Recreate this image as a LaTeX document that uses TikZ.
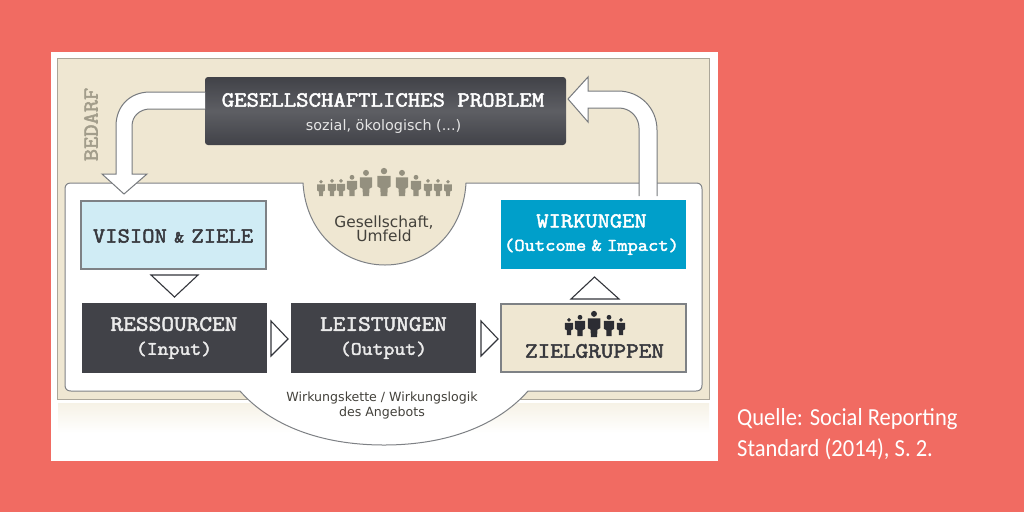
\documentclass[tikz,border=0pt]{standalone}
\usepackage{fontspec}
\setmainfont{DejaVu Sans}
\setmonofont[AutoFakeBold=2.4,FakeStretch=1.12]{Latin Modern Mono}
\newfontfamily\qfont[FakeStretch=0.92]{Carlito}
\usetikzlibrary{calc}
\definecolor{bgred}{HTML}{F16B62}
\definecolor{beige}{HTML}{EFE7D2}
\definecolor{edgegray}{HTML}{8C8F94}
\definecolor{darkbox}{HTML}{414248}
\definecolor{lightblue}{HTML}{D0ECF5}
\definecolor{wirkblue}{HTML}{009FCA}
\definecolor{persongray}{HTML}{94907F}
\definecolor{persondark}{HTML}{2C2D33}
\definecolor{tri}{HTML}{33353B}
\tikzset{
  x=1pt,y=-1pt,
  base/.style={inner sep=0pt,outer sep=0pt,minimum width=#1,minimum height=68pt,line width=2pt},
  base/.default=185pt,
  bt/.style={font=\ttfamily\bfseries\fontsize{22}{24}\selectfont,align=center},
  darkstep/.style={base,fill=darkbox,draw=none,text=white!92!black,bt},
  triangle/.style={draw=tri,line width=1.1pt,fill=white,line join=miter},
  blockarrow/.style={draw=edgegray!85!black,line width=1pt,fill=white,line join=miter},
  sanslabel/.style={align=center,text=#1,inner sep=0pt},
}
\newcommand{\person}[4]{%
  \begin{scope}[shift={(#1,#2)},x=#3pt,y=-#3pt]
    \fill[#4] (0,-0.89) circle (0.115);
    \fill[#4] (-0.24,-0.72) -- (0.24,-0.72) -- (0.24,-0.34) -- (0.13,-0.28) -- (0.12,0) -- (-0.12,0) -- (-0.13,-0.28) -- (-0.24,-0.34) -- cycle;
  \end{scope}}
\begin{document}
\begin{tikzpicture}
\useasboundingbox (0,0) rectangle (1024,512);
\fill[bgred] (0,0) rectangle (1024,512);
\fill[white] (51,52) rectangle (718,461);
\fill[top color=beige!55!white,bottom color=white] (58,403) rectangle (709,433);
\draw[fill=beige,draw=black!25!beige!85!gray,line width=1pt] (57,58) rectangle (709,399);

% inner white panel
\draw[fill=white,draw=edgegray!90!black,line width=1pt]
  (71,183) -- (303,183)
  .. controls (306,235) and (345,265) .. (385,265)
  .. controls (425,265) and (463,235) .. (466,183)
  -- (696,183) .. controls (700,183) and (702,185) .. (702,189)
  -- (702,385) .. controls (702,389) and (700,391) .. (696,391)
  -- (528,391)
  .. controls (498,425) and (448,445) .. (384,445)
  .. controls (320,445) and (270,425) .. (240,391)
  -- (71,391) .. controls (67,391) and (65,389) .. (65,385)
  -- (65,189) .. controls (65,185) and (67,183) .. (71,183) -- cycle;

% problem box
\node[shading=axis,top color=darkbox,bottom color=darkbox,middle color=darkbox!85!white,
  rounded corners=3pt,inner sep=0pt,minimum width=361pt,minimum height=68pt,anchor=center] (problem) at (385.5,111) {};
\node[bt,text=white,font=\ttfamily\bfseries\fontsize{21.5}{24}\selectfont] (problemtitle) at (383,100) {GESELLSCHAFTLICHES PROBLEM};
\node[sanslabel=white!90!black,font=\fontsize{14.4}{15}\selectfont] (problemsub) at (383.5,127) {sozial, ökologisch (...)};

% block arrows
\draw[blockarrow] (205,92) -- (150,92) .. controls (130,92) and (116,106) .. (116,126)
  -- (116,174) -- (102,174) -- (124,194) -- (147,174) -- (132,174) -- (132,126)
  .. controls (132,116) and (140,109) .. (150,109) -- (205,109);
\draw[blockarrow] (639,196) -- (639,128) .. controls (639,117) and (630,108) .. (619,108)
  -- (588,108) -- (588,122) -- (568,99) -- (588,77) -- (588,91) -- (618,91)
  .. controls (640,91) and (657,108) .. (657,130) -- (657,196);

% BEDARF
\node[rotate=90,font=\ttfamily\bfseries\fontsize{21.2}{24}\selectfont,text=persongray!85!beige,inner sep=0pt] (bedarf) at (91,124.5) {BEDARF};

% crowd
\foreach \px/\ph in {321/16,332/17,341/17,352/21,366/26,384/28,402/26,416/21,428/17,438/17,448/16}
  {\person{\px}{196}{\ph}{persongray}}
\node[sanslabel=black!72!beige,font=\fontsize{15.4}{14.5}\selectfont] (umfeld) at (384,229) {Gesellschaft,\\Umfeld};

% boxes
\node[base,fill=lightblue,draw=edgegray!90!black] (vision) at (173.5,235) {};
\node[bt,text=darkbox!85!black,font=\ttfamily\bfseries\fontsize{21.4}{24}\selectfont] (visiontext) at (173,236) {VISION\kern-5pt\ {\fontsize{17}{24}\selectfont\&}\kern-5pt\ ZIELE};
\node[base,fill=wirkblue,draw=none,minimum height=69pt] (wirk) at (593,234.5) {};
\node[bt,text=white,font=\ttfamily\bfseries\fontsize{21.25}{24}\selectfont] (wirktext) at (591.5,234.5) {WIRKUNGEN\\[-0.6pt]{\fontsize{17.8}{24}\selectfont(Outcome\kern-5pt\ \&\kern-5pt\ Impact)}};
\node[darkstep,minimum height=70pt] (res) at (174,338) {RESSOURCEN\\{\fontsize{18.9}{24}\selectfont(Input)}};
\node[darkstep,minimum height=70pt] (lei) at (383.5,338) {LEISTUNGEN\\{\fontsize{18.9}{24}\selectfont(Output)}};
\node[base,fill=beige,draw=edgegray!90!black] (ziel) at (593.5,338) {};
\node[bt,text=darkbox!85!black,font=\ttfamily\bfseries\fontsize{21.9}{24}\selectfont] (zieltext) at (594.5,351) {ZIELGRUPPEN};
\foreach \px/\ph in {569/17,580/21,594/26,609/21,621/17}
  {\person{\px}{\ifnum\ph=26 337\else\ifnum\ph=21 336\else 335\fi\fi}{\ph}{persondark}}

% triangles
\draw[triangle] (151,275) -- (198,275) -- (174.5,297) -- cycle;
\draw[triangle] (271,321) -- (271,356) -- (288,339) -- cycle;
\draw[triangle] (481,321) -- (481,356) -- (498,339) -- cycle;
\draw[triangle] (571,299) -- (619,299) -- (594.5,277) -- cycle;

% caption
\node[sanslabel=black!72!beige,font=\fontsize{12.6}{15}\selectfont] (kette) at (382,405.5) {Wirkungskette / Wirkungslogik\\des Angebots};
\node[anchor=west,align=left,text=white,inner sep=0pt,font=\qfont\fontsize{24.5}{31}\selectfont] (quelle) at (737,434) {Quelle: Social Reporting\\Standard (2014), S. 2.};
\end{tikzpicture}
\end{document}
